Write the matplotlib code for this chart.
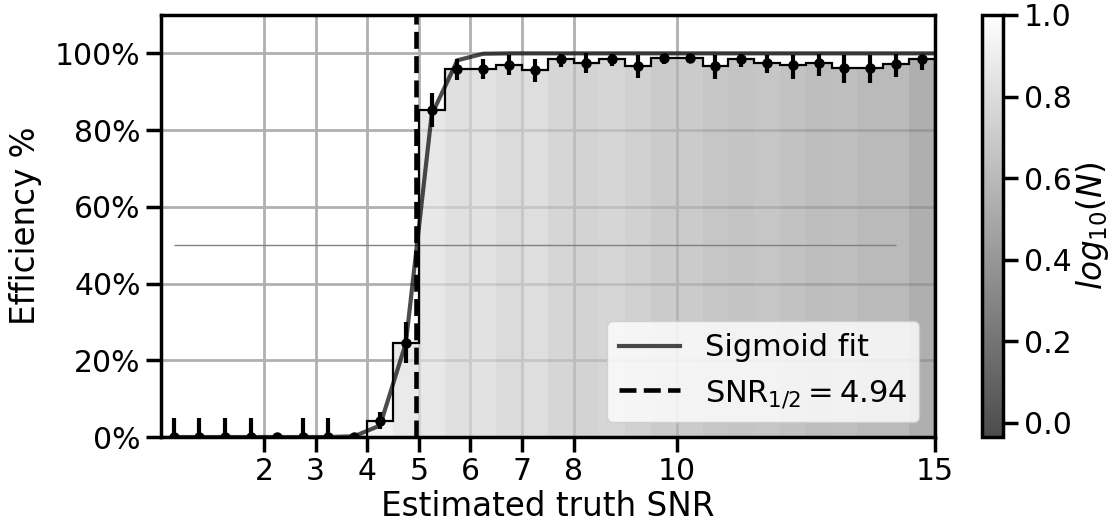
import numpy as np
import matplotlib
matplotlib.use("Agg")
import matplotlib.pyplot as plt
from matplotlib.ticker import PercentFormatter
from matplotlib.colors import Normalize

# ---------------- data ----------------
bin_edges = np.linspace(0, 15, 31)
bin_centers = [0.25, 0.75, 1.25, 1.75, 2.25, 2.75, 3.25, 3.75, 4.25, 4.75,
               5.25, 5.75, 6.25, 6.75, 7.25, 7.75, 8.25, 8.75, 9.25, 9.75,
               10.25, 10.75, 11.25, 11.75, 12.25, 12.75, 13.25, 13.75, 14.25, 14.75]
efficiency = [0, 0, 0, 0, 0, 0, 0, 0, 0.042, 0.246,
              0.852, 0.958, 0.958, 0.969, 0.957, 0.984, 0.976, 0.984, 0.967, 0.989,
              0.989, 0.967, 0.984, 0.976, 0.969, 0.976, 0.963, 0.963, 0.971, 0.984]
err_low = [0, 0, 0, 0, 0, 0, 0, 0, 0.021, 0.053,
           0.045, 0.028, 0.024, 0.026, 0.032, 0.020, 0.028, 0.018, 0.031, 0.016,
           0.015, 0.035, 0.020, 0.028, 0.035, 0.034, 0.039, 0.039, 0.032, 0.028]
err_high = [0.05, 0.05, 0.05, 0.05, 0, 0.05, 0.05, 0, 0.023, 0.054,
            0.045, 0.026, 0.026, 0.026, 0.029, 0.015, 0.024, 0.015, 0.030, 0.010,
            0.010, 0.030, 0.015, 0.020, 0.028, 0.023, 0.034, 0.034, 0.027, 0.013]
log10_n = [np.nan, np.nan, np.nan, np.nan, np.nan, np.nan, np.nan, np.nan, 0.926, 0.882,
           0.867, 0.823, 0.837, 0.793, 0.808, 0.763, 0.749, 0.763, 0.734, 0.704,
           0.704, 0.675, 0.660, 0.675, 0.645, 0.616, 0.630, 0.601, 0.601, 0.542]
sigmoid_x = [0.25, 0.75, 1.25, 1.75, 2.25, 2.75, 3.25, 3.75, 4.25, 4.75,
             5.25, 5.75, 6.25, 6.75, 7.25, 7.75, 8.25, 8.75, 9.25, 9.75,
             10.25, 10.75, 11.25, 11.75, 12.25, 12.75, 13.25, 13.75, 14.25, 14.75, 15.0]
sigmoid_y = [0, 0, 0, 0, 0, 0, 0, 0.002, 0.03, 0.245,
             0.84, 0.982, 0.999, 1, 1, 1, 1, 1, 1, 1,
             1, 1, 1, 1, 1, 1, 1, 1, 1, 1, 1]
snr_half = 4.94
x_ticks = [2, 3, 4, 5, 6, 7, 8, 10, 15]
y_ticks = [0, 0.2, 0.4, 0.6, 0.8, 1.0]
cbar_ticks = [0.0, 0.2, 0.4, 0.6, 0.8, 1.0]

# ---------------- style ----------------
plt.rcParams.update({
    "font.family": ["DejaVu Sans"],
    "axes.linewidth": 2.5,
    "xtick.major.size": 11,
    "ytick.major.size": 11,
    "xtick.major.width": 2.5,
    "ytick.major.width": 2.5,
    "xtick.labelsize": 21.5,
    "ytick.labelsize": 21.5,
    "axes.labelsize": 23.5,
    "legend.fontsize": 22,
})

fig = plt.figure(figsize=(11.14, 5.26), dpi=100)
ax = fig.add_axes([0.1443, 0.1692, 0.6948, 0.8023])
cax = fig.add_axes([0.8818, 0.1692, 0.0189, 0.8023])

cmap = plt.get_cmap("gray")
norm = Normalize(vmin=-0.035, vmax=1.0)

ax.set_axisbelow(True)
ax.grid(True, color="#b0b0b0", lw=2)

eff = np.array(efficiency)
centers = np.array(bin_centers)
lg = np.array(log10_n)
mask = eff > 0
ax.bar(centers[mask], eff[mask], width=0.5, color=cmap(norm(lg[mask])),
       alpha=0.7, edgecolor="none", zorder=1)

ax.stairs(eff, bin_edges, color="k", lw=1.6, zorder=3)
ax.hlines(0.5, 0.25, 14.25, color="#808080", lw=1, zorder=2)
ax.plot(sigmoid_x, sigmoid_y, color="k", alpha=0.7, lw=3, label="Sigmoid fit", zorder=3.5)
ax.errorbar(centers, eff, yerr=[err_low, err_high], fmt="o", color="k", ms=6.5,
            elinewidth=3, capsize=0, zorder=4)
ax.axvline(snr_half, color="k", ls="--", lw=3.3,
           label=r"$\mathrm{SNR}_{1/2} = %.2f$" % snr_half, zorder=5)

ax.set_xlim(0, 15)
ax.set_ylim(0, 1.1)
ax.set_xticks(x_ticks)
ax.set_yticks(y_ticks)
ax.yaxis.set_major_formatter(PercentFormatter(xmax=1, decimals=0))
ax.set_xlabel("Estimated truth SNR", labelpad=3)
ax.set_ylabel("Efficiency %", labelpad=9)
ax.legend(loc="lower right")

sm = matplotlib.cm.ScalarMappable(norm=norm, cmap=cmap)
cb = fig.colorbar(sm, cax=cax, alpha=0.7)
cb.set_ticks(cbar_ticks)
cb.outline.set_linewidth(2.5)
cax.tick_params(length=11, width=2.5, labelsize=21.5)
cb.set_label(r"$log_{10}(N)$", fontsize=23.5, labelpad=2)

fig.savefig("out.png", dpi=100)
